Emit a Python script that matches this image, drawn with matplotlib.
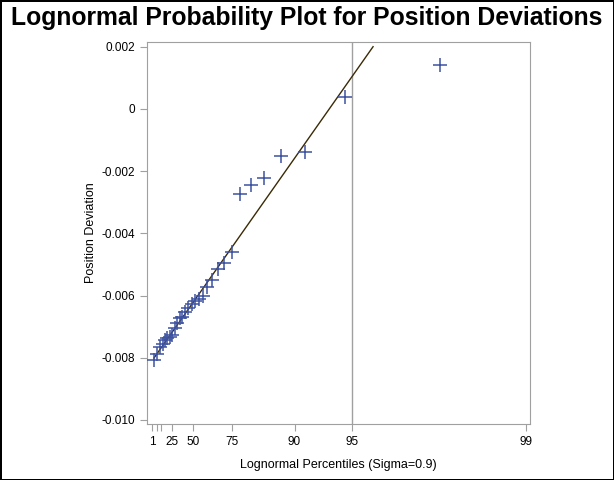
from statistics import NormalDist
import matplotlib
matplotlib.use("Agg")
from matplotlib import pyplot as plt
import numpy as np

plt.rcParams['font.family'] = ['Liberation Sans', 'DejaVu Sans']

# sorted position deviations
deviations = [-0.00807, -0.00787, -0.00767, -0.00755, -0.00742, -0.00735,
              -0.00732, -0.00726, -0.00703, -0.00687, -0.00671, -0.00668,
              -0.00652, -0.00639, -0.00626, -0.00619, -0.00610, -0.00600,
              -0.00574, -0.00549, -0.00514, -0.00497, -0.00459, -0.00275,
              -0.00246, -0.00221, -0.00150, -0.00138, 0.00037, 0.00142]
sigma = 0.9
theta = -0.00835      # reference line intercept
scale = 0.002134      # reference line slope
pct_ticks = [1, 5, 10, 25, 50, 75, 90, 95, 99]
pct_labels = ['1', '', '', '25', '50', '75', '90', '95', '99']
y_ticks = [-0.010, -0.008, -0.006, -0.004, -0.002, 0, 0.002]
y_labels = ['-0.010', '-0.008', '-0.006', '-0.004', '-0.002', '0', '0.002']

nd = NormalDist()
def lognq(p):
    return np.exp(sigma * nd.inv_cdf(p))

n = len(deviations)
xq = [lognq((i - 0.375) / (n + 0.25)) for i in range(1, n + 1)]

fig = plt.figure(figsize=(6.14, 4.8), dpi=100)
fig.patch.set_edgecolor('black')
fig.patch.set_linewidth(2)
ax = fig.add_axes([0.2394, 0.1167, 0.6238, 0.7964])

gray = '#a0a0a0'
ax.axvline(lognq(0.95), color=gray, lw=1, zorder=1)

x_end = (0.002 - theta) / scale
lx = np.array([xq[0], x_end])
ax.plot(lx, theta + scale * lx, color='#3a2a05', lw=1, zorder=2)

ax.plot(xq, deviations, '+', color='#3d52a1', ms=10, mew=1.1, zorder=3)

ax.set_xlim(0.01, 8.21)
ax.set_ylim(-0.01013, 0.00216)
ax.set_xticks([lognq(p / 100) for p in pct_ticks])
ax.set_xticklabels(pct_labels)
ax.set_yticks(y_ticks)
ax.set_yticklabels(y_labels)

for s in ax.spines.values():
    s.set_color(gray)
ax.tick_params(colors=gray, labelcolor='black', labelsize=8.5, length=5, direction='out')

ax.set_xlabel('Lognormal Percentiles (Sigma=0.9)', fontsize=9, labelpad=8)
ax.set_ylabel('Position Deviation', fontsize=9, labelpad=3)

fig.text(0.5, 0.963, 'Lognormal Probability Plot for Position Deviations',
         ha='center', va='center', fontsize=17.8, fontweight='bold')

fig.savefig('out.png', dpi=100, edgecolor=fig.get_edgecolor())
